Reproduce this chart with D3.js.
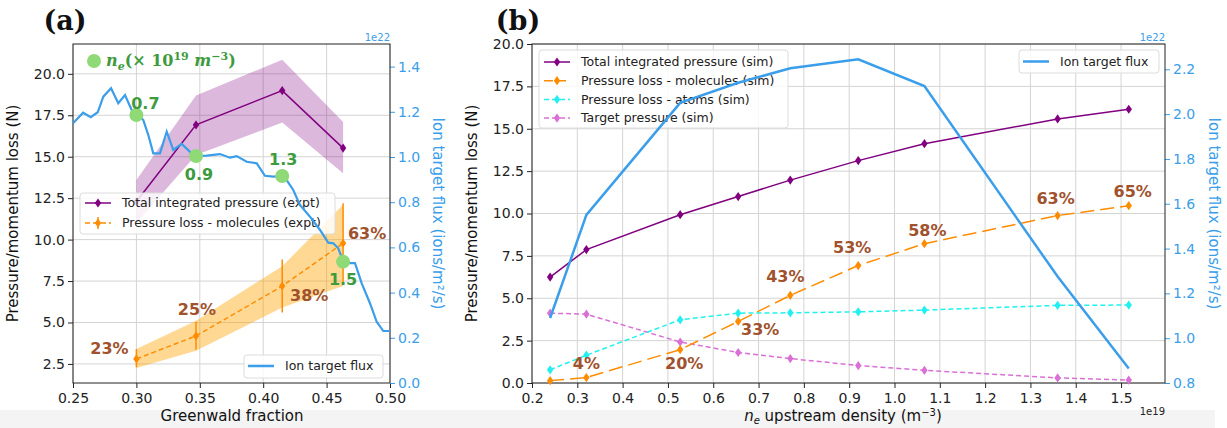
<!DOCTYPE html>
<html>
<head>
<meta charset="utf-8">
<script src="https://cdn.jsdelivr.net/npm/d3@7"></script>
<style>
  body { margin: 0; background: #fff; }
  text { font-family: "DejaVu Sans", sans-serif; }
</style>
</head>
<body>
<div id="chart"></div>
<script>
// ---------- data: panel (a), experiment ----------
const gfX = [0.300, 0.347, 0.415, 0.463];
const totalExpt = [12.3, 16.92, 18.99, 15.52];
const totalExptLo = [11.0, 15.1, 17.06, 14.0];
const totalExptHi = [13.6, 18.7, 20.85, 17.1];
const molExpt = [2.8, 4.19, 7.2, 9.78];
const molErrLo = [2.3, 3.35, 5.6, 7.3];
const molErrHi = [3.4, 5.05, 8.8, 12.2];
const molBandLo = [2.25, 3.3, 5.9, 7.2];
const molBandHi = [3.4, 5.1, 8.4, 12.1];
const molExptPct = ["23%", "25%", "38%", "63%"];
const neLabels = ["0.7", "0.9", "1.3", "1.5"];
const neFlux = [1.186, 1.004, 0.916, 0.537];

const fluxAX = [0.250, 0.258, 0.264, 0.2695, 0.2739, 0.280, 0.2857, 0.291, 0.2963, 0.3002,
  0.3054, 0.3094, 0.3133, 0.3186, 0.3239, 0.3291, 0.3357, 0.3423, 0.3476, 0.3554,
  0.3659, 0.3738, 0.3791, 0.387, 0.3949, 0.4014, 0.408, 0.414, 0.4185, 0.4237,
  0.429, 0.4369, 0.4448, 0.4513, 0.4553, 0.4592, 0.4632, 0.4671, 0.4724, 0.4777,
  0.4842, 0.4895, 0.4947, 0.500];
const fluxAY = [1.149, 1.196, 1.176, 1.198, 1.267, 1.304, 1.238, 1.274, 1.208, 1.186,
  1.164, 1.097, 1.016, 1.016, 1.112, 1.031, 1.058, 1.023, 1.004, 1.006,
  1.013, 0.997, 1.004, 0.979, 0.972, 0.917, 0.913, 0.916, 0.898, 0.854,
  0.788, 0.736, 0.677, 0.621, 0.618, 0.596, 0.537, 0.530, 0.530, 0.441,
  0.353, 0.271, 0.230, 0.230];

// ---------- data: panel (b), simulation ----------
const neX = [0.24, 0.32, 0.527, 0.655, 0.77, 0.92, 1.066, 1.36, 1.517];
const totalSim = [6.25, 7.87, 9.93, 11.0, 11.97, 13.12, 14.12, 15.58, 16.15];
const molSim = [0.14, 0.32, 1.97, 3.63, 5.17, 6.93, 8.22, 9.88, 10.46];
const atomSim = [0.78, 1.64, 3.73, 4.12, 4.14, 4.2, 4.3, 4.58, 4.6];
const targetSim = [4.12, 4.06, 2.42, 1.8, 1.44, 1.03, 0.75, 0.3, 0.17];
const fluxSim = [1.09, 1.55, 2.05, 2.14, 2.205, 2.245, 2.125, 1.275, 0.865];
const molSimPct = ["", "4%", "20%", "33%", "43%", "53%", "58%", "63%", "65%"];

// tick labels
const gfTicks = [0.25, 0.30, 0.35, 0.40, 0.45, 0.50];
const aLeftTicks = [2.5, 5.0, 7.5, 10.0, 12.5, 15.0, 17.5, 20.0];
const aRightTicks = [0.0, 0.2, 0.4, 0.6, 0.8, 1.0, 1.2, 1.4];
const neTicks = [0.2, 0.3, 0.4, 0.5, 0.6, 0.7, 0.8, 0.9, 1.0, 1.1, 1.2, 1.3, 1.4, 1.5];
const bLeftTicks = [0.0, 2.5, 5.0, 7.5, 10.0, 12.5, 15.0, 17.5, 20.0];
const bRightTicks = [0.8, 1.0, 1.2, 1.4, 1.6, 1.8, 2.0, 2.2];

// ---------- styles ----------
const PURPLE = "#800080", ORANGE = "#ff8c00", CYAN = "#22f0f0", ORCHID = "#da70d6";
const BLUE = "#3a9eea", BROWN = "#a0522d", GREEN = "#3d9b3d", LGREEN = "#8fd977";
const GRID = "#d4d4d4";

const W = 1227, H = 428;
const svg = d3.select("#chart").append("svg")
  .attr("width", W).attr("height", H);

svg.append("rect").attr("x", 0).attr("y", 410).attr("width", 1215).attr("height", 18)
  .attr("fill", "#f4f4f4");

const diamond = "M0,-4.6L3.2,0L0,4.6L-3.2,0Z";

function panel(o) {
  const x = d3.scaleLinear().domain(o.xDom).range([o.x0, o.x1]);
  const yL = d3.scaleLinear().domain(o.yLDom).range([o.y1, o.y0]);
  const yR = d3.scaleLinear().domain(o.yRDom).range([o.y1, o.y0]);
  const g = svg.append("g");

  // grid
  g.append("g").selectAll("line").data(o.xTicks).join("line")
    .attr("x1", d => x(d)).attr("x2", d => x(d)).attr("y1", o.y0).attr("y2", o.y1)
    .attr("stroke", GRID);
  g.append("g").selectAll("line").data(o.yLTicks).join("line")
    .attr("x1", o.x0).attr("x2", o.x1).attr("y1", d => yL(d)).attr("y2", d => yL(d))
    .attr("stroke", GRID);

  // axes
  const ax = g.append("g").attr("transform", `translate(0,${o.y1})`)
    .call(d3.axisBottom(x).tickValues(o.xTicks).tickFormat(d3.format(o.xFmt)).tickSizeOuter(0).tickSize(5));
  const al = g.append("g").attr("transform", `translate(${o.x0},0)`)
    .call(d3.axisLeft(yL).tickValues(o.yLTicks).tickFormat(d3.format(".1f")).tickSizeOuter(0).tickSize(5));
  const ar = g.append("g").attr("transform", `translate(${o.x1},0)`)
    .call(d3.axisRight(yR).tickValues(o.yRTicks).tickFormat(d3.format(".1f")).tickSizeOuter(0).tickSize(5));
  [ax, al, ar].forEach(a => {
    a.select(".domain").remove();
    a.selectAll("text").style("font-size", "14px").attr("fill", "#222");
    a.selectAll("line").attr("stroke", "#222");
  });
  ar.selectAll("text").attr("fill", BLUE);
  ar.selectAll("line").attr("stroke", BLUE);
  ax.selectAll("text").attr("dy", "0.85em");

  // frame
  g.append("rect").attr("x", o.x0).attr("y", o.y0)
    .attr("width", o.x1 - o.x0).attr("height", o.y1 - o.y0)
    .attr("fill", "none").attr("stroke", "#222").attr("stroke-width", 1);

  // labels
  g.append("text").attr("transform", `translate(${o.lx},${(o.y0 + o.y1) / 2}) rotate(-90)`)
    .attr("text-anchor", "middle").style("font-size", "15px").attr("fill", "#111")
    .text("Pressure/momentum loss (N)");
  g.append("text").attr("transform", `translate(${o.rx},${(o.y0 + o.y1) / 2}) rotate(90)`)
    .attr("text-anchor", "middle").style("font-size", "15px").attr("fill", BLUE)
    .text("Ion target flux (ions/m\u00b2/s)");
  g.append("text").attr("x", o.x1).attr("y", 41).attr("text-anchor", "end")
    .style("font-size", "10px").attr("fill", BLUE).text("1e22");
  g.append("text").attr("x", o.tx).attr("y", 30).attr("text-anchor", "middle")
    .style("font-family", "'DejaVu Serif', serif").style("font-weight", "bold")
    .style("font-size", "27px").attr("fill", "#111").text(o.title);
  return { g, x, yL, yR };
}

function legendBox(g, x, y, w, h) {
  g.append("rect").attr("x", x).attr("y", y).attr("width", w).attr("height", h)
    .attr("rx", 3).attr("fill", "rgba(255,255,255,0.82)").attr("stroke", "#dcdcdc");
}
function legendEntry(g, x, y, color, dash, label, marker) {
  g.append("line").attr("x1", x).attr("x2", x + 26).attr("y1", y).attr("y2", y)
    .attr("stroke", color).attr("stroke-width", marker ? 1.5 : 2.5).attr("stroke-dasharray", dash);
  if (marker) g.append("path").attr("d", diamond).attr("transform", `translate(${x + 13},${y})`).attr("fill", color);
  g.append("text").attr("x", x + 37).attr("y", y).attr("dy", "0.35em")
    .style("font-size", "12.5px").attr("fill", "#222").text(label);
}

// =================== panel (a) ===================
const A = panel({
  x0: 73, x1: 390, y0: 44, y1: 383,
  xDom: [0.25, 0.50], yLDom: [1.35, 21.8], yRDom: [0, 1.5],
  xTicks: gfTicks, yLTicks: aLeftTicks, yRTicks: aRightTicks, xFmt: ".2f",
  lx: 18, rx: 433, tx: 65, title: "(a)"
});
A.g.append("text").attr("x", 232).attr("y", 421).attr("text-anchor", "middle")
  .style("font-size", "15px").attr("fill", "#111").text("Greenwald fraction");

const ia = d3.range(gfX.length);
A.g.append("path").datum(ia)
  .attr("d", d3.area().x(i => A.x(gfX[i])).y0(i => A.yL(totalExptLo[i])).y1(i => A.yL(totalExptHi[i])))
  .attr("fill", PURPLE).attr("fill-opacity", 0.28);
A.g.append("path").datum(ia)
  .attr("d", d3.area().x(i => A.x(gfX[i])).y0(i => A.yL(molBandLo[i])).y1(i => A.yL(molBandHi[i])))
  .attr("fill", "#ffa500").attr("fill-opacity", 0.42);
A.g.append("path").datum(ia)
  .attr("d", d3.line().x(i => A.x(gfX[i])).y(i => A.yL(totalExpt[i])))
  .attr("fill", "none").attr("stroke", PURPLE).attr("stroke-width", 1.5);
A.g.selectAll(".tm").data(ia).join("path").attr("d", diamond)
  .attr("transform", i => `translate(${A.x(gfX[i])},${A.yL(totalExpt[i])})`).attr("fill", PURPLE);
A.g.selectAll(".eb").data(ia).join("line")
  .attr("x1", i => A.x(gfX[i])).attr("x2", i => A.x(gfX[i]))
  .attr("y1", i => A.yL(molErrLo[i])).attr("y2", i => A.yL(molErrHi[i]))
  .attr("stroke", ORANGE).attr("stroke-width", 1.5);
A.g.append("path").datum(ia)
  .attr("d", d3.line().x(i => A.x(gfX[i])).y(i => A.yL(molExpt[i])))
  .attr("fill", "none").attr("stroke", ORANGE).attr("stroke-width", 1.5).attr("stroke-dasharray", "5,3");
A.g.selectAll(".mm").data(ia).join("path").attr("d", diamond)
  .attr("transform", i => `translate(${A.x(gfX[i])},${A.yL(molExpt[i])})`).attr("fill", ORANGE);

// legend of left axis
legendBox(A.g, 80, 193, 255, 41);
legendEntry(A.g, 85, 203, PURPLE, null, "Total integrated pressure (expt)", true);
legendEntry(A.g, 85, 223, ORANGE, "5,3", "Pressure loss - molecules (expt)", true);
A.g.append("line").attr("x1", 98).attr("x2", 98).attr("y1", 217).attr("y2", 229)
  .attr("stroke", ORANGE).attr("stroke-width", 1.5);

// percentages
const pctOffA = [[-27, -11], [1, -27], [27, 9], [24, -10]];
A.g.selectAll(".pa").data(ia).join("text")
  .attr("x", i => A.x(gfX[i]) + pctOffA[i][0]).attr("y", i => A.yL(molExpt[i]) + pctOffA[i][1])
  .attr("text-anchor", "middle").attr("dy", "0.36em")
  .style("font-size", "16px").style("font-weight", "bold").attr("fill", BROWN)
  .text(i => molExptPct[i]);

// right axis: flux
A.g.append("path").datum(d3.range(fluxAX.length))
  .attr("d", d3.line().x(i => A.x(fluxAX[i])).y(i => A.yR(fluxAY[i])))
  .attr("fill", "none").attr("stroke", BLUE).attr("stroke-width", 2.2);
A.g.selectAll(".nc").data(ia).join("circle")
  .attr("cx", i => A.x(gfX[i])).attr("cy", i => A.yR(neFlux[i])).attr("r", 7)
  .attr("fill", LGREEN);
const neOff = [[9, -12], [3, 18], [1, -17], [0, 18]];
A.g.selectAll(".nl").data(ia).join("text")
  .attr("x", i => A.x(gfX[i]) + neOff[i][0]).attr("y", i => A.yR(neFlux[i]) + neOff[i][1])
  .attr("text-anchor", "middle").attr("dy", "0.36em")
  .style("font-size", "16px").style("font-weight", "bold").attr("fill", GREEN)
  .text(i => neLabels[i]);
A.g.append("circle").attr("cx", 94).attr("cy", 61).attr("r", 7).attr("fill", LGREEN);
const neT = A.g.append("text").attr("x", 106).attr("y", 66)
  .style("font-family", "'DejaVu Serif', serif").style("font-weight", "bold")
  .style("font-size", "16px").attr("fill", GREEN);
neT.append("tspan").style("font-style", "italic").text("n");
neT.append("tspan").attr("dy", 4).style("font-size", "11px").style("font-style", "italic").text("e");
neT.append("tspan").attr("dy", -4).text("(\u00d7 10");
neT.append("tspan").attr("dy", -6).style("font-size", "11px").text("19");
neT.append("tspan").attr("dy", 6).style("font-style", "italic").text(" m");
neT.append("tspan").attr("dy", -6).style("font-size", "11px").text("\u22123");
neT.append("tspan").attr("dy", 6).text(")");

legendBox(A.g, 244, 355, 139, 23);
legendEntry(A.g, 248, 366, BLUE, null, "Ion target flux", false);

// =================== panel (b) ===================
const B = panel({
  x0: 532, x1: 1165, y0: 44, y1: 383,
  xDom: [0.2, 1.597], yLDom: [0, 20], yRDom: [0.8, 2.313],
  xTicks: neTicks, yLTicks: bLeftTicks, yRTicks: bRightTicks, xFmt: ".1f",
  lx: 477, rx: 1209, tx: 518, title: "(b)"
});
const xl = B.g.append("text").attr("x", 843).attr("y", 421).attr("text-anchor", "middle")
  .style("font-size", "15px").attr("fill", "#111");
xl.append("tspan").style("font-style", "italic").text("n");
xl.append("tspan").attr("dy", 3).style("font-size", "10px").style("font-style", "italic").text("e");
xl.append("tspan").attr("dy", -3).text(" upstream density (m");
xl.append("tspan").attr("dy", -5).style("font-size", "10px").text("\u22123");
xl.append("tspan").attr("dy", 5).text(")");
B.g.append("text").attr("x", 1165).attr("y", 415).attr("text-anchor", "end")
  .style("font-size", "10px").attr("fill", "#222").text("1e19");

const ib = d3.range(neX.length);
const simSeries = [
  { vals: targetSim, color: ORCHID, dash: "5,3", w: 1.5, label: "Target pressure (sim)" },
  { vals: atomSim, color: CYAN, dash: "5,3", w: 1.5, label: "Pressure loss - atoms (sim)" },
  { vals: molSim, color: ORANGE, dash: "14,6", w: 1.5, label: "Pressure loss - molecules (sim)" },
  { vals: totalSim, color: PURPLE, dash: null, w: 1.5, label: "Total integrated pressure (sim)" }
];
simSeries.forEach(s => {
  B.g.append("path").datum(ib)
    .attr("d", d3.line().x(i => B.x(neX[i])).y(i => B.yL(s.vals[i])))
    .attr("fill", "none").attr("stroke", s.color).attr("stroke-width", s.w)
    .attr("stroke-dasharray", s.dash);
  B.g.append("g").selectAll("path").data(ib).join("path").attr("d", diamond)
    .attr("transform", i => `translate(${B.x(neX[i])},${B.yL(s.vals[i])})`).attr("fill", s.color);
});

legendBox(B.g, 539, 50, 249, 78);
simSeries.slice().reverse().forEach((s, k) => {
  legendEntry(B.g, 544, 62 + k * 18.7, s.color, s.dash === "14,6" ? "9,4" : s.dash, s.label, true);
});

const pctOffB = [[0, 0], [0, -14], [4, 14], [22, 8], [-5, -19], [-6, -18], [3, -13], [-2, -17], [4, -14]];
B.g.selectAll(".pb").data(ib.filter(i => molSimPct[i])).join("text")
  .attr("x", i => B.x(neX[i]) + pctOffB[i][0]).attr("y", i => B.yL(molSim[i]) + pctOffB[i][1])
  .attr("text-anchor", "middle").attr("dy", "0.36em")
  .style("font-size", "16px").style("font-weight", "bold").attr("fill", BROWN)
  .text(i => molSimPct[i]);

B.g.append("path").datum(ib)
  .attr("d", d3.line().x(i => B.x(neX[i])).y(i => B.yR(fluxSim[i])))
  .attr("fill", "none").attr("stroke", BLUE).attr("stroke-width", 2.5);

legendBox(B.g, 1019, 50, 140, 23);
legendEntry(B.g, 1023, 61.5, BLUE, null, "Ion target flux", false);
</script>
</body>
</html>
